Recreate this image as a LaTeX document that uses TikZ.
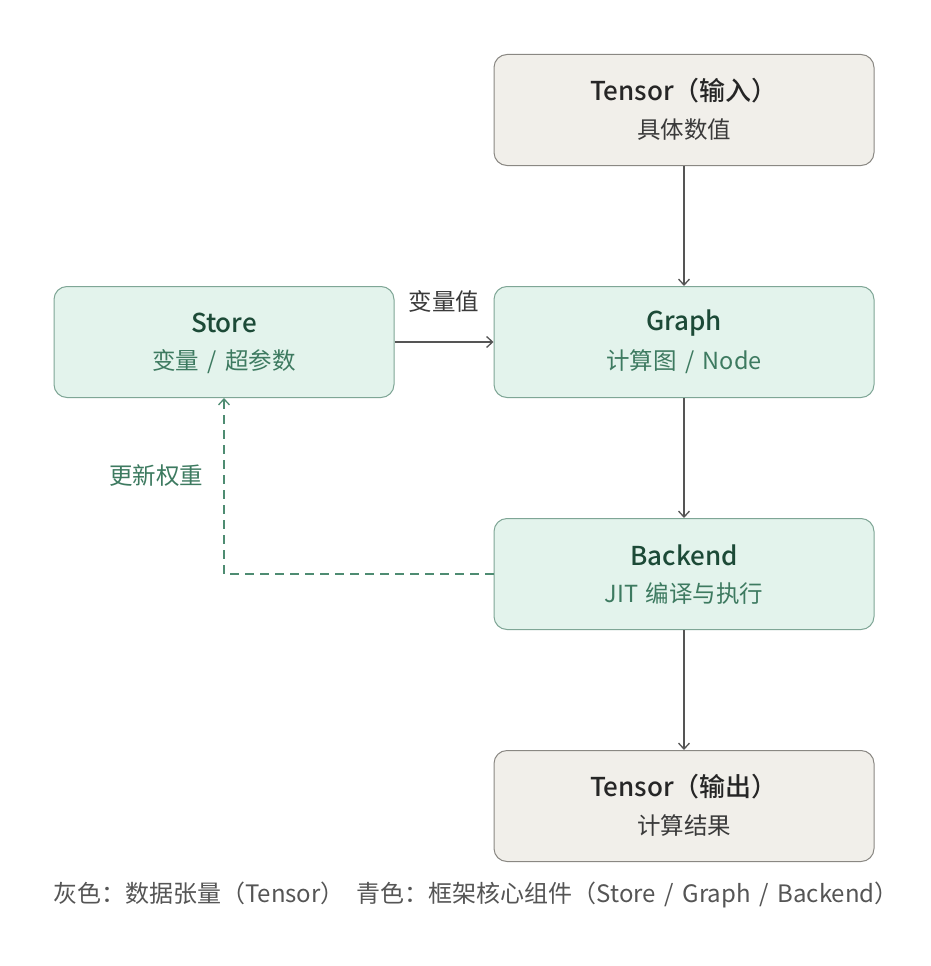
\documentclass[tikz,border=0pt]{standalone}
\usepackage{fontspec}
\setmainfont{Noto Sans CJK SC}[BoldFont={Noto Sans CJK SC Medium}]
\usetikzlibrary{arrows.meta}
\newcommand\slsep{\hspace{0.36em}/\hspace{0.36em}}
\definecolor{grayfill}{HTML}{F1EFEA}
\definecolor{grayline}{HTML}{8A8883}
\definecolor{greenfill}{HTML}{E3F3EC}
\definecolor{greenline}{HTML}{7FA696}
\definecolor{titlegray}{HTML}{262626}
\definecolor{subgray}{HTML}{3A3A3A}
\definecolor{titlegreen}{HTML}{1C4A37}
\definecolor{subgreen}{HTML}{3D7A60}
\definecolor{arrowgray}{HTML}{555555}
\definecolor{dashgreen}{HTML}{4E8C72}
\definecolor{legendgray}{HTML}{555555}
\tikzset{
  box/.style={rounded corners=13pt, minimum width=380pt, minimum height=111pt, line width=1pt, inner sep=0pt},
  graybox/.style={box, draw=grayline, fill=grayfill},
  greenbox/.style={box, draw=greenline, fill=greenfill},
  ttl/.style={font=\fontsize{26}{30}\selectfont\bfseries},
  sub/.style={font=\fontsize{23.5}{28}\selectfont},
  conn/.style={draw=arrowgray, line width=1.3pt, -{Straight Barb[length=6pt,width=11pt,line width=1.3pt]}},
  dconn/.style={draw=dashgreen, line width=1.5pt, dash pattern=on 9pt off 6pt, -{Straight Barb[length=6pt,width=11pt,line width=1.3pt]}},
}
\begin{document}
\begin{tikzpicture}[x=1pt,y=-1pt]
\useasboundingbox (0,0) rectangle (930,966);
\fill[white] (0,0) rectangle (930,966);
% boxes
\node[graybox] (tin) at (684,110) {};
\node[greenbox, minimum width=340pt] (store) at (224,342) {};
\node[greenbox] (graph) at (684,342) {};
\node[greenbox] (backend) at (684,574) {};
\node[graybox] (tout) at (684,806) {};
% texts
\node[ttl, text=titlegray] (tinT) at (684,91) {Tensor（输入）};
\node[sub, text=subgray] (tinS) at (684,130) {具体数值};
\node[ttl, text=titlegreen] (storeT) at (224,323) {Store};
\node[sub, text=subgreen] (storeS) at (224,362) {变量\slsep 超参数};
\node[ttl, text=titlegreen] (graphT) at (684,323) {Graph};
\node[sub, text=subgreen] (graphS) at (684,362) {计算图\slsep Node};
\node[ttl, text=titlegreen] (backT) at (684,555) {Backend};
\node[sub, text=subgreen] (backS) at (684,594) {JIT\hspace{0.3em}编译与执行};
\node[ttl, text=titlegray] (toutT) at (684,787) {Tensor（输出）};
\node[sub, text=subgray] (toutS) at (684,826) {计算结果};
% connectors
\draw[conn] (tin.south) -- (graph.north);
\draw[conn] (store.east) -- (graph.west);
\draw[conn] (graph.south) -- (backend.north);
\draw[conn] (backend.south) -- (tout.north);
\coordinate (corner) at (224,574);
\draw[dconn] (backend.west) -- (corner) -- (store.south);
% labels
\node[sub, text=subgray] (lblv) at (444,301) {变量值};
\node[sub, text=subgreen] (lblu) at (156,476) {更新权重};
% legend
\node[anchor=west, font=\fontsize{24}{28}\selectfont, text=legendgray, inner sep=0pt] (legend) at (53,895) {灰色：数据张量（Tensor）\hspace{0.5em}青色：框架核心组件（Store\slsep Graph\slsep Backend）};
\end{tikzpicture}
\end{document}
